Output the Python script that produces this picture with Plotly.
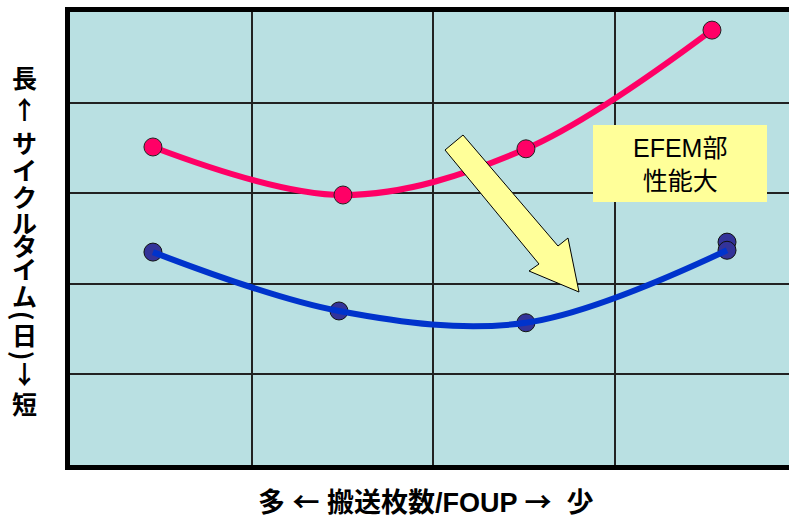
import plotly.graph_objects as go

# ---- data ----
pink_x = [0.457, 1.504, 2.512, 3.537]
pink_y = [3.51, 2.98, 3.49, 4.80]
blue_x = [0.457, 1.482, 2.512, 3.62]
blue_y = [2.35, 1.70, 1.57, 2.37]
blue_extra_x = [3.62]
blue_extra_y = [2.46]

ylabel_chars = ["長", "↑", "サ", "イ", "ク", "ル", "タ", "イ", "ム", "(", "日", ")", "↓", "短"]
ylabel_pix_y = [77, 108, 142, 169, 196, 222, 245, 268, 295, 315, 334, 355, 373, 403]
xlabel_parts = ["多 ", "←", " 搬送枚数/FOUP ", "→", "  少"]
box_text = "EFEM部<br>性能大"

W, H = 789, 515
L, T, B = 70, 12, 50
PW, PH = W - L, H - T - B
XU = 181.5  # px per x unit
YU = PH / 5.0

PINK = "#FF0066"
BLUE = "#0033CC"
BLUE_M = "#333399"
YEL = "#FFFF99"
FONT = "Liberation Sans, Arial, Noto Sans CJK JP"
CJK = "Noto Sans CJK JP"

def px2x(px):
    return (px - L) / XU

def px2y(py):
    return (H - B - py) / YU

fig = go.Figure()
fig.add_trace(go.Scatter(x=pink_x, y=pink_y, mode="lines",
                         line=dict(color=PINK, width=6, shape="spline", smoothing=1.0),
                         hoverinfo="skip", showlegend=False))
fig.add_trace(go.Scatter(x=pink_x, y=pink_y, mode="markers",
                         marker=dict(color=PINK, size=18, line=dict(color="#222", width=1)),
                         showlegend=False))
fig.add_trace(go.Scatter(x=blue_extra_x + blue_x, y=blue_extra_y + blue_y, mode="markers",
                         marker=dict(color=BLUE_M, size=18, line=dict(color="#111", width=1)),
                         showlegend=False))
fig.add_trace(go.Scatter(x=blue_x, y=blue_y, mode="lines",
                         line=dict(color=BLUE, width=6, shape="spline", smoothing=1.0),
                         hoverinfo="skip", showlegend=False))

# block arrow (decoration)
arrow_px = [(445, 150), (463, 135), (558, 246), (568, 238), (579, 292), (529, 271), (539, 264)]
path = "M " + " L ".join(f"{px2x(a)},{px2y(b)}" for a, b in arrow_px) + " Z"
fig.add_shape(type="path", path=path, xref="x", yref="y",
              fillcolor=YEL, line=dict(color="black", width=1), layer="above")

# text box
fig.add_shape(type="rect", xref="x", yref="y",
              x0=px2x(593), x1=px2x(767), y0=px2y(202), y1=px2y(125),
              fillcolor=YEL, line=dict(width=0), layer="above")
fig.add_annotation(x=px2x(680), y=px2y(164), xref="x", yref="y", text=box_text,
                   showarrow=False, font=dict(family=FONT, size=25, color="black"),
                   align="center")

# y label stacked characters
for ch, py in zip(ylabel_chars, ylabel_pix_y):
    ang = 90 if ch in "()" else 0
    fig.add_annotation(x=(24 - L) / PW, y=(H - B - py) / PH, xref="paper", yref="paper",
                       text=f"<b>{ch}</b>", showarrow=False, textangle=ang,
                       font=dict(family=CJK, size=25, color="black"),
                       xanchor="center", yanchor="middle")

# x label
xl = ""
for part in xlabel_parts:
    if part in ("←", "→"):
        xl += f"<span style=\"font-family:'{CJK}'\">{part}</span>"
    else:
        xl += part
fig.add_annotation(x=(426 - L) / PW, y=(H - B - 500) / PH, xref="paper", yref="paper",
                   text=f"<b>{xl}</b>", showarrow=False,
                   font=dict(family=FONT, size=27, color="black"),
                   xanchor="center", yanchor="middle")

fig.update_layout(
    width=W, height=H,
    margin=dict(l=L, r=0, t=T, b=B, pad=0),
    paper_bgcolor="white", plot_bgcolor="#B9E0E2",
    showlegend=False,
)
fig.update_xaxes(range=[0, PW / XU], tickvals=[1, 2, 3], showticklabels=False,
                 showgrid=True, gridcolor="#222", gridwidth=1.5, zeroline=False,
                 showline=True, linecolor="black", linewidth=5, mirror=True, ticks="")
fig.update_yaxes(range=[0, 5], tickvals=[1, 2, 3, 4], showticklabels=False,
                 showgrid=True, gridcolor="#222", gridwidth=1.5, zeroline=False,
                 showline=True, linecolor="black", linewidth=5, mirror=False, ticks="")

fig.write_html("out.html")
